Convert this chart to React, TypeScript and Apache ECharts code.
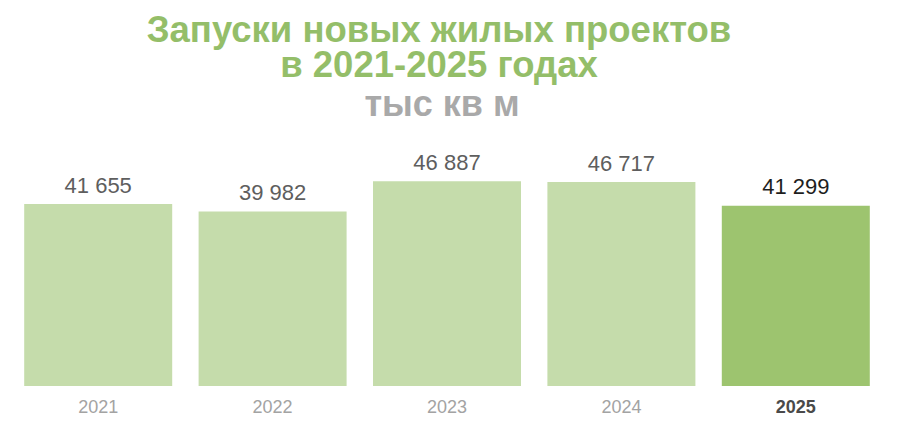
import * as echarts from 'echarts';
import { useEffect, useRef } from 'react';

const years = ['2021', '2022', '2023', '2024', '2025'];
const launches = [41655, 39982, 46887, 46717, 41299];

const titleLines = ['Запуски новых жилых проектов', 'в 2021-2025 годах'];
const unitLabel = 'тыс кв м';

const LIGHT = '#c5dcab';
const DARK = '#9dc46f';

const fmt = (v: number) => String(v).replace(/\B(?=(\d{3})+(?!\d))/g, ' ');

function App() {
  const chartRef = useRef<HTMLDivElement>(null);

  useEffect(() => {
    const chart = echarts.init(chartRef.current, null, { renderer: 'svg' });
    const last = years.length - 1;

    const option = {
      animation: false,
      backgroundColor: '#ffffff',
      grid: { left: 11, right: 17, top: 124, bottom: 52 },
      graphic: [
        {
          type: 'text',
          x: 439,
          y: 47,
          style: {
            text: titleLines.join('\n'),
            align: 'center',
            verticalAlign: 'middle',
            lineHeight: 35,
            fontFamily: 'Liberation Sans',
            fontWeight: 'bold',
            fontSize: 36.5,
            fill: '#94be69',
          },
        },
        {
          type: 'text',
          x: 442,
          y: 103,
          style: {
            text: unitLabel,
            align: 'center',
            verticalAlign: 'middle',
            fontFamily: 'Liberation Sans',
            fontWeight: 'bold',
            fontSize: 36,
            fill: '#a9a9a9',
          },
        },
      ],
      xAxis: {
        type: 'category',
        data: years,
        axisLine: { show: false },
        axisTick: { show: false },
        axisLabel: {
          margin: 12,
          fontFamily: 'Liberation Sans',
          fontSize: 18,
          color: '#a3a3a3',
          rich: {
            cur: { fontFamily: 'Liberation Sans', fontSize: 18, fontWeight: 'bold', color: '#4a4a4a' },
          },
          formatter: (v: string, i: number) => (i === last ? `{cur|${v}}` : v),
        },
      },
      yAxis: {
        type: 'value',
        min: 0,
        max: 60000,
        show: false,
        splitLine: { show: false },
      },
      series: [
        {
          type: 'bar',
          barWidth: 148,
          data: launches.map((v, i) => ({
            value: v,
            itemStyle: { color: i === last ? DARK : LIGHT },
            label: { color: i === last ? '#1e1e1e' : '#5e5e5e' },
          })),
          label: {
            show: true,
            position: 'top',
            distance: 8,
            fontFamily: 'Liberation Sans',
            fontSize: 22,
            formatter: (p: any) => fmt(p.value),
          },
        },
      ],
    };

    chart.setOption(option);
    return () => {
      chart.dispose();
    };
  }, []);

  return (
    <div
      ref={chartRef}
      style={{ position: 'absolute', left: 0, top: 0, width: '900px', height: '438px' }}
    ></div>
  );
}

export default App;
